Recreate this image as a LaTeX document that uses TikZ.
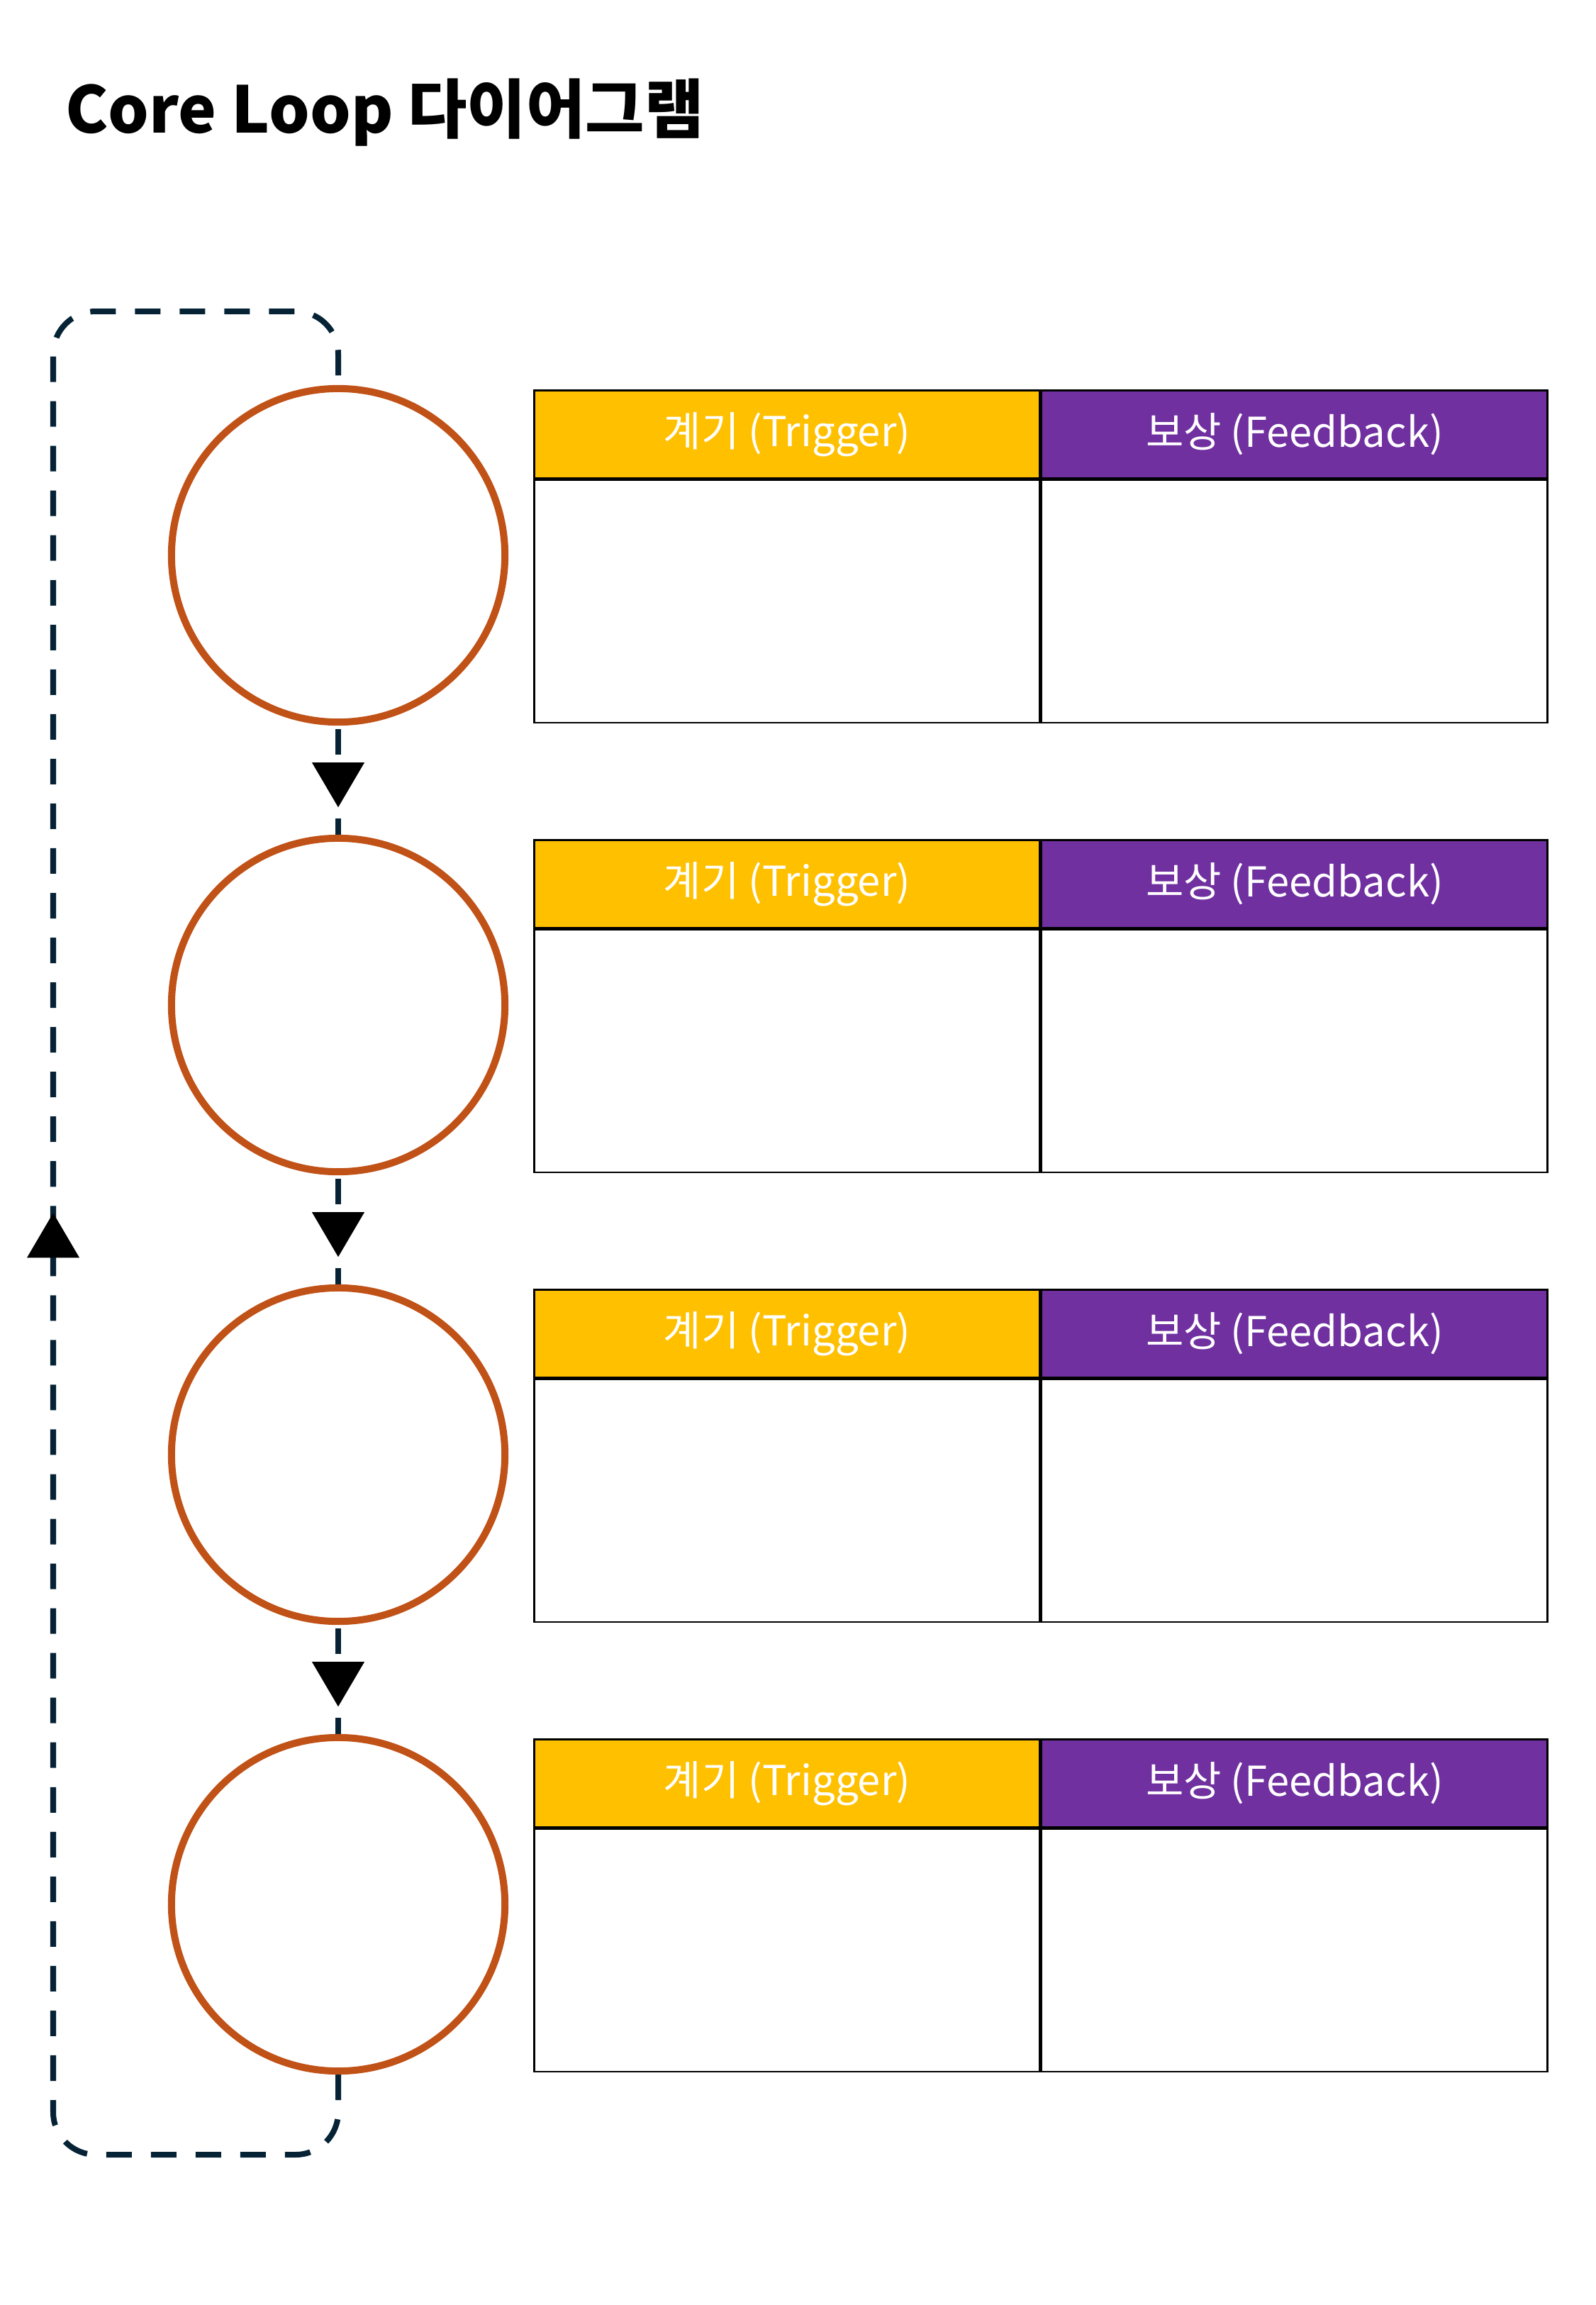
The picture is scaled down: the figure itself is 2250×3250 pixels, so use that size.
\documentclass[tikz,border=0pt]{standalone}
\usepackage{fontspec}
\setmainfont{Noto Sans CJK KR}
\usepackage{xcolor}
\usepackage{tikz}
\usetikzlibrary{arrows.meta}
\usetikzlibrary{decorations.markings}
\usetikzlibrary{backgrounds}
\definecolor{trigyellow}{HTML}{FFC000}
\definecolor{fbpurple}{HTML}{7030A0}
\definecolor{ringorange}{HTML}{C05117}
\definecolor{loopnavy}{HTML}{062335}
\tikzset{
  stepcircle/.style={circle, draw=ringorange, line width=0.1cm, minimum size=4.7cm, inner sep=0pt},
  headcell/.style={rectangle, draw=black, line width=0.025cm, minimum width=7.13cm, minimum height=1.24cm, inner sep=0pt, text=white, font=\fontsize{16.5}{20}\selectfont},
  bodycell/.style={rectangle, draw=black, line width=0.025cm, minimum width=7.13cm, minimum height=3.42cm, inner sep=0pt},
  loopline/.style={draw=loopnavy, line width=0.08cm, dash pattern=on 0.36cm off 0.27cm},
  midarrow/.style={postaction={decorate}, decoration={markings, mark=at position #1 with {\arrow[black]{Triangle[width=0.74cm, length=0.63cm, line width=0pt]}}}}
}

\begin{document}
\begin{tikzpicture}[x=0.01cm, y=-0.01cm]
            \useasboundingbox (0, 0) rectangle (2250, 3250);

            \node[anchor=base west, font=\bfseries\fontsize{25.8}{31}\selectfont] (title) at (80, 187) {Core Loop 다이어그램};

            \node[stepcircle] (c1) at (477, 783) {};
            \node[stepcircle] (c2) at (477, 1417) {};
            \node[stepcircle] (c3) at (477, 2051) {};
            \node[stepcircle] (c4) at (477, 2685) {};

            \node[headcell, fill=trigyellow, anchor=north west] (trig1) at (752, 549) {계기 (Trigger)};
            \node[headcell, fill=fbpurple, anchor=north west] (fb1) at (trig1.north east) {보상 (Feedback)};
            \node[bodycell, anchor=north west] (trigbody1) at (trig1.south west) {};
            \node[bodycell, anchor=north west] (fbbody1) at (fb1.south west) {};

            \node[headcell, fill=trigyellow, anchor=north west] (trig2) at (752, 1183) {계기 (Trigger)};
            \node[headcell, fill=fbpurple, anchor=north west] (fb2) at (trig2.north east) {보상 (Feedback)};
            \node[bodycell, anchor=north west] (trigbody2) at (trig2.south west) {};
            \node[bodycell, anchor=north west] (fbbody2) at (fb2.south west) {};

            \node[headcell, fill=trigyellow, anchor=north west] (trig3) at (752, 1817) {계기 (Trigger)};
            \node[headcell, fill=fbpurple, anchor=north west] (fb3) at (trig3.north east) {보상 (Feedback)};
            \node[bodycell, anchor=north west] (trigbody3) at (trig3.south west) {};
            \node[bodycell, anchor=north west] (fbbody3) at (fb3.south west) {};

            \node[headcell, fill=trigyellow, anchor=north west] (trig4) at (752, 2451) {계기 (Trigger)};
            \node[headcell, fill=fbpurple, anchor=north west] (fb4) at (trig4.north east) {보상 (Feedback)};
            \node[bodycell, anchor=north west] (trigbody4) at (trig4.south west) {};
            \node[bodycell, anchor=north west] (fbbody4) at (fb4.south west) {};

            \coordinate (loopbl) at (75, 3038);
            \coordinate (looptl) at (75, 439);

            \begin{scope}[on background layer]
            \draw[loopline, dash phase=0.58cm, midarrow=1.15cm] (c1.south) -- (c2.north);
            \draw[loopline, dash phase=0.58cm, midarrow=1.15cm] (c2.south) -- (c3.north);
            \draw[loopline, dash phase=0.58cm, midarrow=1.15cm] (c3.south) -- (c4.north);

            % back to the first step
            \draw[loopline, rounded corners=0.6cm, midarrow=17.90cm] (c4.south) |- (loopbl) -- (looptl) -| (c1.north);
            \end{scope}

        \end{tikzpicture}
\end{document}
